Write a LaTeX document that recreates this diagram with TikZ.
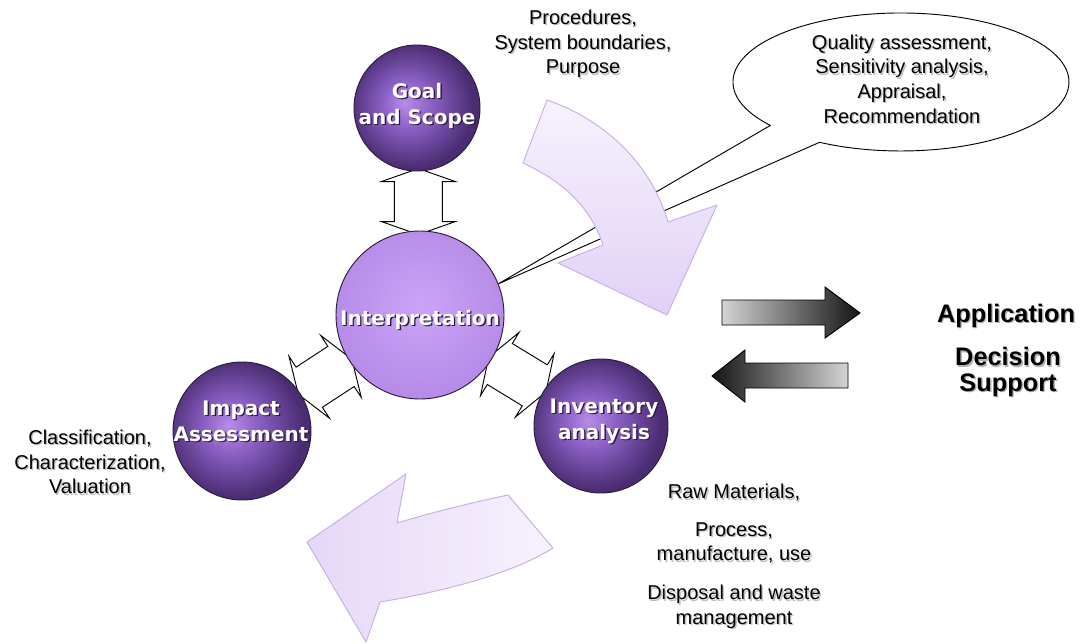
\documentclass[tikz,border=0pt]{standalone}
\usepackage{fontspec}
\setmainfont{Liberation Sans}
\newfontfamily\ballfont{DejaVu Sans}
\usetikzlibrary{calc}
\definecolor{ballC}{HTML}{B88CEA}
\definecolor{ballM}{HTML}{8A5FC3}
\definecolor{ballE}{HTML}{4A2C72}
\definecolor{intC}{HTML}{CBA4F6}
\definecolor{intE}{HTML}{B68CE8}
\definecolor{ballLine}{HTML}{2A1C3C}
\definecolor{lavL}{HTML}{F7F2FD}
\definecolor{lavD}{HTML}{E1D1F6}
\definecolor{lavLine}{HTML}{C7AEE6}
\definecolor{grL}{HTML}{D4D4D4}
\definecolor{grD}{HTML}{141414}
\pgfdeclareradialshading{darkball}{\pgfpoint{-5bp}{2bp}}{color(0bp)=(ballC); color(10bp)=(ballM); color(25bp)=(ballE); color(50bp)=(ballE)}
\pgfdeclareradialshading{lightball}{\pgfpoint{0bp}{3bp}}{color(0bp)=(intC); color(25bp)=(intE); color(50bp)=(intE)}
\tikzset{
  darkcirc/.style={circle, inner sep=0pt, draw=ballLine, line width=0.7pt, shade, shading=darkball},
  lightcirc/.style={circle, inner sep=0pt, draw=ballLine, line width=0.7pt, shade, shading=lightball},
  balltxt/.style={font=\ballfont\bfseries\fontsize{15}{19.5}\selectfont, text=white, align=center, inner sep=0pt},
  blktxt/.style={font=\fontsize{15}{18.5}\selectfont, text=black, align=center, inner sep=0pt},
  bigtxt/.style={font=\bfseries\fontsize{19}{19}\selectfont, text=black, align=center, inner sep=0pt},
  dblarr/.style={draw=black, fill=white, line width=0.7pt, line join=miter},
  bendarr/.style={draw=lavLine, line width=0.7pt, line join=round},
  grayarr/.style={draw=black, line width=0.7pt},
  bubble/.style={draw=black, fill=white, line width=0.7pt, line join=round}
}
\newcommand\mkshtxt[6]{%
  \node[#2, text=#5] (#1sh) at ({#3+1.4},{#4+1.4}) {#6};
  \node[#2] (#1) at (#3,#4) {#6};}
\newcommand\dblarrowat[3]{%
  \begin{scope}[shift={#1}, rotate=#2]
    \draw[dblarr] (-#3,0) -- ({-#3+13},37) -- ({-#3+13},24) -- ({#3-13},24) -- ({#3-13},37) -- (#3,0)
      -- ({#3-13},-37) -- ({#3-13},-24) -- ({-#3+13},-24) -- ({-#3+13},-37) -- cycle;
  \end{scope}}
\begin{document}
\begin{tikzpicture}[x=0.75pt,y=-0.75pt]
\fill[white] (0,0) rectangle (1088,643);
\useasboundingbox (0,0) rectangle (1088,643);

% centres
\coordinate (cGoal) at (417,108);
\coordinate (cInterp) at (420,315);
\coordinate (cImpact) at (242,431);
\coordinate (cInv) at (601,426);
\coordinate (ctip) at (498,284);

% speech bubble
\draw[bubble] (ctip) -- (770.4,125.4) arc[start angle=141, end angle=479, x radius=168, y radius=69] -- cycle;

% curved arrows
\draw[bendarr, top color=lavL, bottom color=lavD]
  (547,100) .. controls (600,118) and (650,160) .. (668,222) -- (717,205) -- (667,315) -- (558,263)
  -- (603,245) .. controls (590,205) and (560,180) .. (523,163) -- cycle;
\draw[bendarr, left color=lavD!85!white, right color=lavL]
  (508,495) .. controls (470,503) and (430,513) .. (397,523) -- (406,474) -- (307,542) -- (366,642)
  -- (380,602) .. controls (440,592) and (510,575) .. (553,548) -- cycle;

% double arrows
\dblarrowat{($(cGoal)!0.452!(cInterp)$)}{90}{33}
\dblarrowat{($(cImpact)!0.467!(cInterp)$)}{33.2}{32}
\dblarrowat{($(cInv)!0.4625!(cInterp)$)}{-31.4}{33.5}

% circles
\node[darkcirc, minimum size=94.5pt] (goal) at (cGoal) {};
\node[lightcirc, minimum size=126pt] (interp) at (cInterp) {};
\node[darkcirc, minimum size=103.5pt] (impact) at (cImpact) {};
\node[darkcirc, minimum size=100.5pt] (inv) at (cInv) {};

% circle labels
\mkshtxt{goalT}{balltxt}{417}{106}{ballE!60!black}{Goal\\and Scope}
\mkshtxt{interpT}{balltxt}{420}{320}{ballE!60!black}{Interpretation}
\mkshtxt{impactT}{balltxt}{241}{421}{ballE!60!black}{Impact\\Assessment}
\mkshtxt{invT}{balltxt}{604}{421}{ballE!60!black}{Inventory\\analysis}

% gray arrows
\draw[grayarr, left color=grL, right color=grD] (722,300) -- (825,300) -- (825,287) -- (860,313) -- (825,338) -- (825,325) -- (722,325) -- cycle;
\draw[grayarr, left color=grD, right color=grL] (848,363) -- (745,363) -- (745,350) -- (712,376) -- (745,402) -- (745,388) -- (848,388) -- cycle;

% texts
\mkshtxt{procT}{blktxt}{583}{44}{black!25}{Procedures,\\System boundaries,\\Purpose}
\mkshtxt{qaT}{blktxt}{902}{79}{black!25}{Quality assessment,\\Sensitivity analysis,\\Appraisal,\\Recommendation}
\mkshtxt{clsT}{blktxt}{90}{462}{black!25}{Classification,\\Characterization,\\Valuation}
\mkshtxt{rawT}{blktxt}{734}{493}{black!25}{Raw Materials,}
\mkshtxt{prcT}{blktxt}{734}{543}{black!25}{Process,\\manufacture, use}
\mkshtxt{dspT}{blktxt}{734}{607}{black!25}{Disposal and waste\\management}
\mkshtxt{appT}{bigtxt}{1006}{316}{black!30}{Application}
\mkshtxt{decT}{bigtxt}{1008}{372}{black!30}{Decision\\Support}
\end{tikzpicture}
\end{document}
